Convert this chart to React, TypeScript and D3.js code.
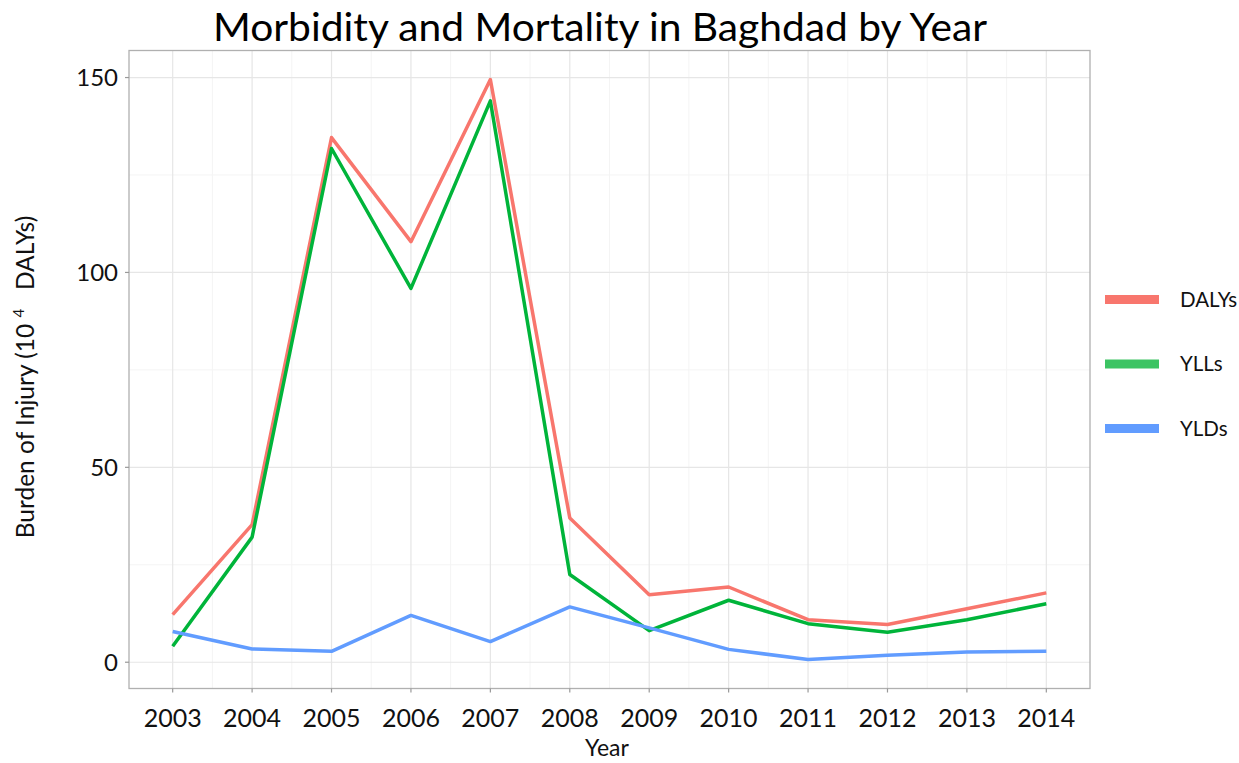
import React from "react";
import * as d3 from "d3";

const years = [2003, 2004, 2005, 2006, 2007, 2008, 2009, 2010, 2011, 2012, 2013, 2014];
const dalys = [12.2, 35.3, 134.6, 107.9, 149.5, 37.0, 17.3, 19.3, 10.9, 9.7, 13.7, 17.8];
const ylls = [4.1, 32.1, 131.8, 95.9, 144.0, 22.5, 8.1, 15.9, 9.9, 7.7, 10.9, 15.0];
const ylds = [7.9, 3.4, 2.8, 12.0, 5.3, 14.2, 8.8, 3.3, 0.7, 1.8, 2.6, 2.8];
const yTicks = [0, 50, 100, 150];
const yMinor = [25, 75, 125];
const seriesNames = ["DALYs", "YLLs", "YLDs"];
const seriesColors = ["#F8766D", "#00B43A", "#619CFF"];
const legendColors = ["#F8766D", "#3CC463", "#619CFF"];

const W = 1239;
const H = 763;
const panel = { left: 129, right: 1090, top: 50.5, bottom: 688.5 };
const font = "Lato, 'Open Sans', sans-serif";

export default function App() {
  const allVals = [...dalys, ...ylls, ...ylds];
  const vmin = d3.min(allVals)!;
  const vmax = d3.max(allVals)!;
  const yPad = (vmax - vmin) * 0.05;
  const xPad = (d3.max(years)! - d3.min(years)!) * 0.05;

  const x = d3
    .scaleLinear()
    .domain([d3.min(years)! - xPad, d3.max(years)! + xPad])
    .range([panel.left, panel.right]);
  const y = d3
    .scaleLinear()
    .domain([vmin - yPad, vmax + yPad])
    .range([panel.bottom, panel.top]);

  const line = d3
    .line<number>()
    .x((_, i) => x(years[i]))
    .y((d) => y(d));

  const series = [dalys, ylls, ylds];
  const xMinor = years.slice(0, -1).map((yr) => yr + 0.5);

  return (
    <svg width={W} height={H} style={{ position: "absolute", left: 0, top: 0, background: "#fff" }}>
      <rect x={0} y={0} width={W} height={H} fill="#fff" />
      <text
        x={600}
        y={41}
        textAnchor="middle"
        fontFamily={font}
        fontSize={38}
        textLength={774}
        lengthAdjust="spacingAndGlyphs"
        fill="#000"
      >
        Morbidity and Mortality in Baghdad by Year
      </text>

      {/* minor grid */}
      {yMinor.map((v) => (
        <line key={"ym" + v} x1={panel.left} x2={panel.right} y1={y(v)} y2={y(v)} stroke="#f4f4f4" strokeWidth={1} />
      ))}
      {xMinor.map((v) => (
        <line key={"xm" + v} x1={x(v)} x2={x(v)} y1={panel.top} y2={panel.bottom} stroke="#f4f4f4" strokeWidth={1} />
      ))}
      {/* major grid */}
      {yTicks.map((v) => (
        <line key={"yg" + v} x1={panel.left} x2={panel.right} y1={y(v)} y2={y(v)} stroke="#e6e6e6" strokeWidth={1.2} />
      ))}
      {years.map((v) => (
        <line key={"xg" + v} x1={x(v)} x2={x(v)} y1={panel.top} y2={panel.bottom} stroke="#e6e6e6" strokeWidth={1.2} />
      ))}

      {/* lines */}
      {series.map((s, i) => (
        <path
          key={seriesNames[i]}
          d={line(s)!}
          fill="none"
          stroke={seriesColors[i]}
          strokeWidth={3.5}
          strokeLinejoin="round"
        />
      ))}

      {/* panel border */}
      <rect
        x={panel.left}
        y={panel.top}
        width={panel.right - panel.left}
        height={panel.bottom - panel.top}
        fill="none"
        stroke="#b0b0b0"
        strokeWidth={1.3}
      />

      {/* ticks */}
      {years.map((v) => (
        <g key={"xt" + v}>
          <line x1={x(v)} x2={x(v)} y1={panel.bottom} y2={panel.bottom + 4} stroke="#999" strokeWidth={1.2} />
          <text x={x(v)} y={727} textAnchor="middle" fontFamily={font} fontSize={25} fill="#111">
            {v}
          </text>
        </g>
      ))}
      {yTicks.map((v) => (
        <g key={"yt" + v}>
          <line x1={panel.left - 4} x2={panel.left} y1={y(v)} y2={y(v)} stroke="#999" strokeWidth={1.2} />
          <text x={118} y={y(v) + 8.5} textAnchor="end" fontFamily={font} fontSize={24} fill="#111">
            {v}
          </text>
        </g>
      ))}

      {/* axis titles */}
      <text x={607} y={756} textAnchor="middle" fontFamily={font} fontSize={23} fill="#111">
        Year
      </text>
      <text
        transform={`translate(34, ${377}) rotate(-90)`}
        textAnchor="middle"
        fontFamily={font}
        fontSize={24.5}
        fill="#111"
        style={{ whiteSpace: "pre" }}
      >
        {"Burden of Injury (10 "}
        <tspan dy={-10} fontSize={15}>4</tspan>
        <tspan dy={10}>{"   DALYs)"}</tspan>
      </text>

      {/* legend */}
      {seriesNames.map((name, i) => {
        const cy = 299.5 + i * 64.5;
        return (
          <g key={"lg" + name}>
            <line x1={1105} x2={1159} y1={cy} y2={cy} stroke={legendColors[i]} strokeWidth={9} />
            <text x={1180} y={cy + 7} fontFamily={font} fontSize={20.5} fill="#111">
              {name}
            </text>
          </g>
        );
      })}
    </svg>
  );
}
